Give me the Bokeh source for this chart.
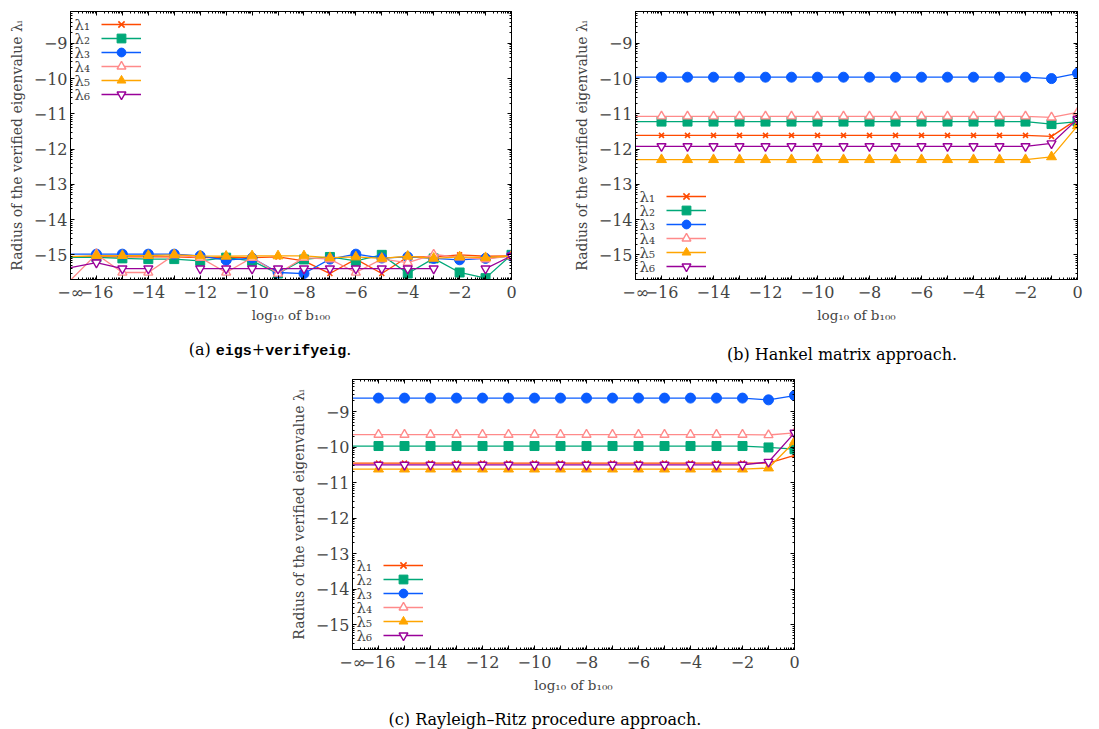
import math
from bokeh.plotting import figure
from bokeh.models import (FixedTicker, LinearAxis, Range1d, Label, Legend,
                          LegendItem, CustomJSTickFormatter, Spacer, Div)
from bokeh.layouts import column, row
from bokeh.embed import file_html
from bokeh.resources import INLINE

# ---------------- data ----------------
X = [-17, -16, -15, -14, -13, -12, -11, -10, -9, -8, -7, -6, -5, -4, -3, -2, -1, 0]
X_TICK_TEXT = ["−∞", "−16", "", "−14", "", "−12", "", "−10", "", "−8", "",
               "−6", "", "−4", "", "−2", "", "0"]
Y_TICKS = [-15, -14, -13, -12, -11, -10, -9]
Y_TICK_TEXT = ["−15", "−14", "−13", "−12", "−11", "−10", "−9"]
NAMES = ["λ₁", "λ₂", "λ₃", "λ₄", "λ₅", "λ₆"]
NAN = float("nan")

# (a) eigs+verifyeig
A1 = [-15.06, -15.06, -15.06, -15.06, -15.06, -15.08, -15.08, -15.08, -15.06, -15.17, -15.53, -15.12, -15.53, -15.06, -15.06, -15.00, -15.04, -15.03]
A2 = [-15.07, -15.07, -15.10, -15.12, -15.12, -15.17, -15.08, -15.17, -15.53, -15.13, -15.06, -15.17, -15.00, -15.53, -15.10, -15.50, -15.66, -15.00]
A3 = [-14.98, -14.98, -14.98, -14.98, -14.98, -15.03, -15.15, -15.09, -15.50, -15.53, -15.12, -14.98, -15.09, -15.06, -15.10, -15.14, -15.10, -15.03]
A4 = [-15.72, -14.98, -15.50, -15.50, -15.00, -15.08, -15.50, -15.08, -15.53, -15.08, -15.12, -15.50, -15.12, -15.22, -14.99, -15.07, -15.12, -15.03]
A5 = [-15.05, -15.02, -15.02, -15.02, -15.00, -15.03, -15.04, -15.03, -15.03, -15.03, -15.08, -15.06, -15.10, -15.04, -15.10, -15.06, -15.08, -15.03]
A6 = [-15.36, -15.22, -15.39, -15.39, NAN, -15.39, -15.39, -15.39, -15.39, -15.39, -15.39, -15.39, -15.39, -15.39, -15.39, NAN, -15.39, -15.03]

# (b) Hankel matrix approach
B1 = [-11.61, -11.61, -11.61, -11.61, -11.61, -11.61, -11.61, -11.61, -11.61, -11.61, -11.61, -11.61, -11.61, -11.61, -11.61, -11.61, -11.64, -11.15]
B2 = [-11.22, -11.22, -11.22, -11.22, -11.22, -11.22, -11.22, -11.22, -11.22, -11.22, -11.22, -11.22, -11.22, -11.22, -11.22, -11.22, -11.29, -11.22]
B3 = [-9.96, -9.96, -9.96, -9.96, -9.96, -9.96, -9.96, -9.96, -9.96, -9.96, -9.96, -9.96, -9.96, -9.96, -9.96, -9.96, -10.00, -9.85]
B4 = [-11.07, -11.07, -11.07, -11.07, -11.07, -11.07, -11.07, -11.07, -11.07, -11.07, -11.07, -11.07, -11.07, -11.07, -11.07, -11.07, -11.10, -10.96]
B5 = [-12.30, -12.30, -12.30, -12.30, -12.30, -12.30, -12.30, -12.30, -12.30, -12.30, -12.30, -12.30, -12.30, -12.30, -12.30, -12.30, -12.22, -11.34]
B6 = [-11.92, -11.92, -11.92, -11.92, -11.92, -11.92, -11.92, -11.92, -11.92, -11.92, -11.92, -11.92, -11.92, -11.92, -11.92, -11.92, -11.84, -11.15]

# (c) Rayleigh-Ritz procedure approach
C1 = [-10.45, -10.45, -10.45, -10.45, -10.45, -10.45, -10.45, -10.45, -10.45, -10.45, -10.45, -10.45, -10.45, -10.45, -10.45, -10.45, -10.45, -10.23]
C2 = [-9.97, -9.97, -9.97, -9.97, -9.97, -9.97, -9.97, -9.97, -9.97, -9.97, -9.97, -9.97, -9.97, -9.97, -9.97, -9.97, -10.01, -10.06]
C3 = [-8.62, -8.62, -8.62, -8.62, -8.62, -8.62, -8.62, -8.62, -8.62, -8.62, -8.62, -8.62, -8.62, -8.62, -8.62, -8.62, -8.67, -8.55]
C4 = [-9.65, -9.65, -9.65, -9.65, -9.65, -9.65, -9.65, -9.65, -9.65, -9.65, -9.65, -9.65, -9.65, -9.65, -9.65, -9.65, -9.66, -9.60]
C5 = [-10.62, -10.62, -10.62, -10.62, -10.62, -10.62, -10.62, -10.62, -10.62, -10.62, -10.62, -10.62, -10.62, -10.62, -10.62, -10.62, -10.59, -9.85]
C6 = [-10.50, -10.50, -10.50, -10.50, -10.50, -10.50, -10.50, -10.50, -10.50, -10.50, -10.50, -10.50, -10.50, -10.50, -10.50, -10.50, -10.42, -9.60]

# ---------------- style ----------------
FONT = "DejaVu Serif"
MONO = "Liberation Mono"
STYLES = [
    dict(color="#ff4a00", marker="x", size=7, fill="#ff4a00", lw=1.6),
    dict(color="#00a878", marker="square", size=9, fill="#00a878", lw=1.0),
    dict(color="#0a5cff", marker="circle", size=10, fill="#0a5cff", lw=1.0),
    dict(color="#ff8a8a", marker="triangle", size=9, fill="white", lw=1.4),
    dict(color="#ffa500", marker="triangle", size=10, fill="#ffa500", lw=1.0),
    dict(color="#990099", marker="inverted_triangle", size=9, fill="white", lw=1.4),
]
Y_MIN = math.log10(2e-16)
Y_MAX = math.log10(8e-9)
X_MIN, X_MAX = -17, 0
X_MINOR = [n + math.log10(k) for n in range(-17, 0) for k in range(2, 10)]
Y_MINOR = [n + math.log10(k) for n in range(-16, -8) for k in range(2, 10)]


def style_axis(ax, ticker):
    ax.ticker = ticker
    ax.major_tick_in = 4
    ax.major_tick_out = 0
    ax.minor_tick_in = 2
    ax.minor_tick_out = 0
    ax.axis_line_color = "black"
    ax.major_tick_line_color = "black"
    ax.minor_tick_line_color = "black"


def make_panel(data, frame_w, frame_h, borders, row_centers):
    bl, br, bt, bb = borders
    p = figure(frame_width=frame_w, frame_height=frame_h,
               x_range=Range1d(X_MIN, X_MAX), y_range=Range1d(Y_MIN, Y_MAX),
               output_backend="svg", toolbar_location=None,
               min_border_left=bl, min_border_right=br,
               min_border_top=bt, min_border_bottom=bb)
    p.xgrid.visible = False
    p.ygrid.visible = False
    p.outline_line_color = "black"
    p.outline_line_alpha = 1.0

    def dx(px):
        return X_MIN + px * (X_MAX - X_MIN) / frame_w

    def dy(px):
        return Y_MIN + px * (Y_MAX - Y_MIN) / frame_h

    xt = FixedTicker(ticks=X, minor_ticks=X_MINOR)
    yt = FixedTicker(ticks=Y_TICKS, minor_ticks=Y_MINOR)

    xa = p.xaxis[0]
    style_axis(xa, xt)
    xa.major_label_overrides = {x: t for x, t in zip(X, X_TICK_TEXT)}
    xa.major_label_text_font = FONT
    xa.major_label_text_font_size = "16px"
    xa.major_label_standoff = 3
    xa.axis_label = "log₁₀ of b₁₀₀"
    xa.axis_label_text_font = FONT
    xa.axis_label_text_font_style = "normal"
    xa.axis_label_text_font_size = "13.5px"
    xa.axis_label_standoff = 2

    ya = p.yaxis[0]
    style_axis(ya, yt)
    ya.major_label_overrides = {y: t for y, t in zip(Y_TICKS, Y_TICK_TEXT)}
    ya.major_label_text_font = FONT
    ya.major_label_text_font_size = "16px"
    ya.major_label_standoff = 3
    ya.axis_label = "Radius of the verified eigenvalue λᵢ"
    ya.axis_label_text_font = FONT
    ya.axis_label_text_font_style = "normal"
    ya.axis_label_text_font_size = "14px"
    ya.axis_label_standoff = 6

    top = LinearAxis(formatter=CustomJSTickFormatter(code="return ''"),
                     major_label_text_font_size="1px", major_label_standoff=0)
    style_axis(top, xt)
    p.add_layout(top, "above")
    right = LinearAxis(formatter=CustomJSTickFormatter(code="return ''"),
                       major_label_text_font_size="1px", major_label_standoff=0)
    style_axis(right, yt)
    p.add_layout(right, "right")

    for i, (vals, st) in enumerate(zip(data, STYLES)):
        lr = p.line(X, vals, line_color=st["color"], line_width=1.3)
        sr = p.scatter(X[1:], vals[1:], marker=st["marker"], size=st["size"],
                       fill_color=st["fill"], line_color=st["color"],
                       line_width=st["lw"])
        lg = Legend(items=[LegendItem(label=" ", renderers=[lr, sr])],
                    location=(31, row_centers[i] - 11),
                    label_text_font=FONT, label_text_font_size="10px",
                    glyph_width=40, glyph_height=22, label_height=10,
                    label_standoff=0, spacing=0, padding=0, margin=0,
                    background_fill_alpha=0, border_line_alpha=0)
        p.add_layout(lg)
        p.add_layout(Label(x=dx(4), y=dy(row_centers[i]), text=NAMES[i],
                           text_font=FONT, text_font_size="15px",
                           text_align="left", text_baseline="middle"))
    return p


rc_a = [268 - 13 - 14 * i for i in range(6)]
rc_b = [13 + 14 * (5 - i) for i in range(6)]
rc_c = [14 + 14 * (5 - i) for i in range(6)]

fa = make_panel([A1, A2, A3, A4, A5, A6], 441, 268, (70, 20, 11, 44), rc_a)
fb = make_panel([B1, B2, B3, B4, B5, B6], 442, 268, (104, 14, 11, 44), rc_b)
fc = make_panel([C1, C2, C3, C4, C5, C6], 442, 270, (70, 30, 12, 44), rc_c)

# captions (HTML text so that roman and bold typewriter can be mixed)
SERIF_CSS = ("font-family:'DejaVu Serif'; font-size:16px; color:#000; line-height:20px; "
             "white-space:nowrap; box-sizing:border-box; text-align:center;")
TT = "<span style=\"font-family:'Liberation Mono'; font-weight:bold; font-size:15px;\">{}</span>"


def caption(html, w, h, pad):
    return Div(text="<div style=\"" + SERIF_CSS + "width:%dpx; %s\">" % (w, pad) + html + "</div>",
               width=w, height=h, margin=(0, 0, 0, 0))


cap_a = caption("(a) " + TT.format("eigs") + "+" + TT.format("verifyeig") + ".",
                531, 42, "padding-top:15px; padding-left:9px;")
cap_b = caption("(b) Hankel matrix approach.", 560, 42, "padding-top:20px; padding-left:62px;")
cap_c = caption("(c) Rayleigh–Ritz procedure approach.", 542, 37, "padding-top:15px; padding-right:16px;")

layout = column(row(column(fa, cap_a), column(fb, cap_b)),
                row(Spacer(width=282, height=10), column(fc, cap_c)))

open("out.html", "w").write(file_html(layout, INLINE))
